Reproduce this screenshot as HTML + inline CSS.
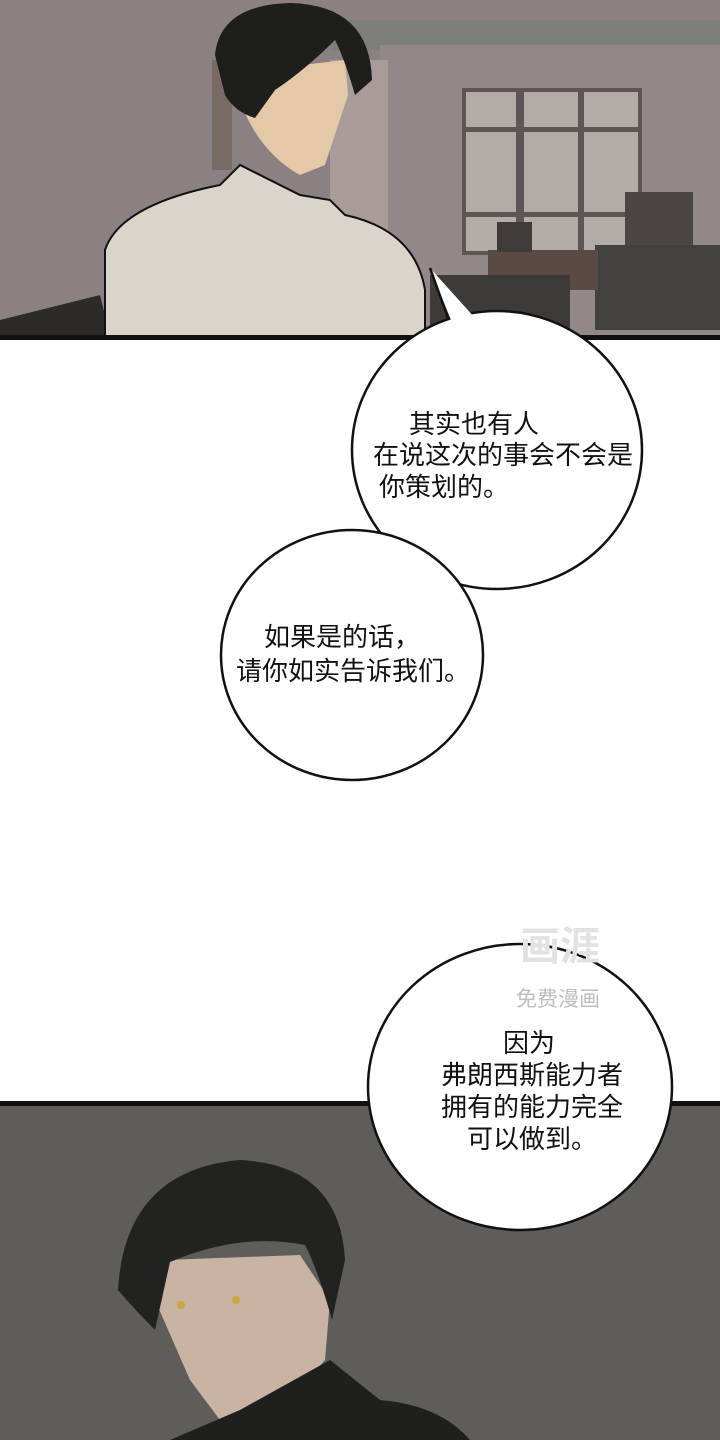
<!DOCTYPE html>
<html><head><meta charset="utf-8"><style>
html,body{margin:0;padding:0;background:#fff}
svg{display:block}
text{font-family:"Liberation Sans","Noto Sans CJK SC",sans-serif;fill:#111;font-size:26px;text-anchor:middle}
</style></head><body>
<svg width="720" height="1440" viewBox="0 0 720 1440" xmlns="http://www.w3.org/2000/svg">
<rect width="720" height="1440" fill="#fff"/>
<!-- top panel -->
<rect x="0" y="0" width="720" height="338" fill="#8b8182"/>
<rect x="330" y="20" width="390" height="30" fill="#7e7e7a"/>
<rect x="380" y="45" width="340" height="293" fill="#938889"/>
<rect x="462" y="88" width="180" height="167" fill="#5d5654"/>
<rect x="466" y="92" width="50" height="35" fill="#b2aba6"/><rect x="524" y="92" width="54" height="35" fill="#b2aba6"/><rect x="584" y="92" width="54" height="35" fill="#b2aba6"/>
<rect x="466" y="132" width="50" height="80" fill="#b2aba6"/><rect x="524" y="132" width="54" height="80" fill="#b2aba6"/><rect x="584" y="132" width="54" height="80" fill="#b2aba6"/>
<rect x="466" y="217" width="50" height="34" fill="#b2aba6"/><rect x="524" y="217" width="54" height="34" fill="#b2aba6"/><rect x="584" y="217" width="54" height="34" fill="#b2aba6"/>
<rect x="625" y="192" width="68" height="60" fill="#4b4643"/>
<rect x="595" y="245" width="125" height="85" fill="#434040"/>
<rect x="488" y="250" width="110" height="40" fill="#5a4a43"/>
<rect x="497" y="222" width="35" height="30" fill="#3f3b39"/>
<rect x="430" y="275" width="140" height="60" fill="#3d3a38"/>
<path d="M0 320 L100 295 L110 336 L0 336Z" fill="#2d2b2a"/>
<rect x="330" y="60" width="58" height="240" fill="#a99b98"/>
<rect x="212" y="60" width="20" height="110" fill="#7a6a64"/>
<!-- man top -->
<path d="M236 90 Q255 150 300 175 L325 165 L348 95 L345 60 L260 70 Z" fill="#e4c9a8"/>
<path d="M215 55 Q220 5 290 3 Q370 5 372 80 L355 95 Q345 60 335 40 Q305 70 275 90 L255 118 Q235 112 225 95 Z" fill="#1e1e1c"/>
<path d="M105 250 Q120 205 220 185 L240 165 L300 195 L330 200 L345 215 Q415 230 425 290 L425 336 L105 336 Z" fill="#d9d5cb" stroke="#111" stroke-width="2"/>
<rect x="0" y="335" width="720" height="5" fill="#111"/>
<!-- bottom panel -->
<rect x="0" y="1104" width="720" height="336" fill="#5e5d5a"/>
<rect x="0" y="1101" width="720" height="5" fill="#111"/>
<path d="M155 1300 L165 1260 L300 1255 L330 1300 L325 1360 L290 1400 L220 1420 L190 1380 Z" fill="#c9b3a3"/>
<path d="M118 1290 Q125 1170 240 1160 Q340 1165 345 1260 L332 1320 Q318 1270 305 1245 Q240 1232 170 1262 L155 1330 Q135 1310 118 1290 Z" fill="#222220"/>
<path d="M170 1440 L240 1410 L330 1360 L380 1400 Q440 1405 470 1440 Z" fill="#1f1f1e"/>
<circle cx="181" cy="1305" r="4" fill="#c9a83a"/><circle cx="236" cy="1300" r="4" fill="#c9a83a"/>
<!-- bubble 1 -->
<ellipse cx="497" cy="450" rx="145" ry="139" fill="#fff" stroke="#111" stroke-width="2.5"/>
<path d="M430 268 L455 330 L475 318 Z" fill="#fff"/>
<path d="M430 268 L448 318" stroke="#111" stroke-width="2.5" fill="none"/>
<text x="474" y="433">其实也有人</text>
<text x="503" y="464">在说这次的事会不会是</text>
<text x="444" y="496">你策划的。</text>
<!-- bubble 2 -->
<ellipse cx="352" cy="655" rx="131" ry="125" fill="#fff" stroke="#111" stroke-width="2.5"/>
<path d="M440 560 Q480 590 520 585 L470 575 Z" fill="#fff"/>
<text x="342" y="646">如果是的话，</text>
<text x="353" y="680">请你如实告诉我们。</text>
<!-- bubble 3 -->
<ellipse cx="520" cy="1087" rx="152" ry="143" fill="#fff" stroke="#111" stroke-width="2.5"/>
<text x="529" y="1052">因为</text>
<text x="532" y="1084">弗朗西斯能力者</text>
<text x="532" y="1116">拥有的能力完全</text>
<text x="532" y="1148">可以做到。</text>
<!-- watermark -->
<text x="560" y="960" style="font-size:40px;fill:#e2e2e2;font-weight:bold">画涯</text>
<text x="558" y="1006" style="font-size:21px;fill:#bdbdbd">免费漫画</text>
</svg>
</body></html>
